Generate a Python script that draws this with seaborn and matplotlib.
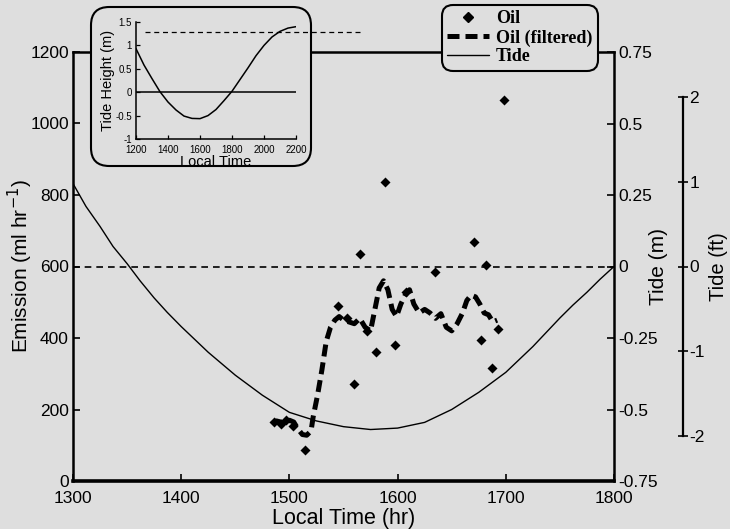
import matplotlib
matplotlib.use("Agg")
import matplotlib.pyplot as plt
import seaborn as sns
import numpy as np
import pandas as pd
from matplotlib.patches import FancyBboxPatch
from matplotlib.lines import Line2D
from matplotlib.font_manager import FontProperties

# ---------------- data ----------------
oil_time = [1486, 1492, 1497, 1503, 1514, 1545, 1553, 1560, 1565, 1572, 1580,
            1588, 1598, 1608, 1635, 1671, 1677, 1682, 1687, 1693, 1698]
oil_emission = [165, 160, 170, 155, 87, 490, 455, 270, 635, 420, 360,
                835, 380, 530, 585, 668, 394, 604, 316, 425, 1065]

filt_time = [1484, 1488, 1492, 1496, 1500, 1504, 1508, 1512, 1516, 1520, 1522,
             1526, 1530, 1534, 1538, 1542, 1546, 1550, 1555, 1560, 1565, 1570,
             1575, 1579, 1583, 1587, 1591, 1595, 1599, 1603, 1607, 1611, 1615,
             1620, 1625, 1630, 1635, 1640, 1645, 1650, 1655, 1660, 1664, 1668,
             1672, 1676, 1680, 1684, 1688, 1692]
filt_emission = [160, 168, 165, 160, 170, 165, 145, 130, 128, 140, 180,
                 240, 310, 390, 430, 450, 460, 450, 445, 440, 455, 430,
                 420, 480, 540, 560, 535, 480, 460, 495, 520, 535, 495,
                 470, 480, 470, 455, 468, 430, 420, 440, 470, 505, 520,
                 515, 495, 470, 465, 445, 450]

tide_time = [1300, 1312, 1325, 1337, 1350, 1362, 1375, 1387, 1400, 1425, 1450,
             1475, 1500, 1525, 1550, 1575, 1600, 1625, 1650, 1675, 1700, 1725,
             1750, 1762, 1775, 1787, 1800]
tide_m = [0.29, 0.21, 0.14, 0.07, 0.01, -0.05, -0.11, -0.16, -0.21, -0.30,
          -0.38, -0.45, -0.51, -0.54, -0.56, -0.57, -0.565, -0.545, -0.50,
          -0.44, -0.37, -0.28, -0.18, -0.135, -0.09, -0.045, 0.0]

inset_time = [1200, 1250, 1300, 1350, 1400, 1450, 1500, 1550, 1600, 1650, 1700,
              1750, 1800, 1850, 1900, 1950, 2000, 2050, 2100, 2150, 2200]
inset_tide = [0.93, 0.58, 0.29, 0.01, -0.21, -0.38, -0.51, -0.56, -0.565,
              -0.50, -0.37, -0.18, 0.02, 0.27, 0.52, 0.78, 1.00, 1.18, 1.30,
              1.37, 1.40]

left_ticks = [0, 200, 400, 600, 800, 1000, 1200]
x_ticks = [1300, 1400, 1500, 1600, 1700, 1800]
m_ticks = [0.75, 0.5, 0.25, 0, -0.25, -0.5, -0.75]
m_labels = ["0.75", "0.5", "0.25", "0", "-0.25", "-0.5", "-0.75"]
ft_ticks = [2, 1, 0, -1, -2]
inset_xticks = [1200, 1400, 1600, 1800, 2000, 2200]
inset_yticks = [-1, -0.5, 0, 0.5, 1, 1.5]
inset_ylabels = ["-1", "-0.5", "0", "0.5", "1", "1.5"]

# ---------------- style ----------------
sns.set_theme(style="ticks")
plt.rcParams["font.family"] = ["Liberation Sans", "DejaVu Sans"]
plt.rcParams["axes.unicode_minus"] = False
plt.rcParams["text.color"] = "black"
plt.rcParams["axes.labelcolor"] = "black"
plt.rcParams["xtick.color"] = "black"
plt.rcParams["ytick.color"] = "black"
BG = "#dedede"
W, H = 730, 529

fig = plt.figure(figsize=(7.3, 5.29), dpi=100, facecolor=BG)
ax = fig.add_axes([73 / W, 1 - 481 / H, (614 - 73) / W, (481 - 52) / H])
ax.set_facecolor("none")
ax.set_xlim(1300, 1800)
ax.set_ylim(0, 1200)

ax.axhline(600, color="black", lw=1.2, ls=(0, (4, 3)), zorder=1)
sns.lineplot(x=filt_time, y=filt_emission, ax=ax, color="black", lw=3.6,
             linestyle=(0, (2.4, 1.2)), sort=False, zorder=3)
sns.scatterplot(x=oil_time, y=oil_emission, ax=ax, marker="D", s=26,
                color="black", edgecolor="black", linewidth=0, zorder=4)

ax.set_xticks(x_ticks)
ax.set_yticks(left_ticks)
ax.tick_params(axis="both", direction="in", length=5, width=1.2,
               labelsize=12.5, colors="black")
ax.tick_params(axis="x", pad=7)
ax.tick_params(axis="y", pad=3)
ax.set_xlabel("Local Time (hr)", fontsize=15.5)
ax.xaxis.set_label_coords(0.5, -0.062)
ax.set_ylabel("Emission (ml hr$^{-1}$)", fontsize=15)
ax.yaxis.set_label_coords(-0.070, 0.5)
for side, lw in [("left", 1.8), ("bottom", 2.6), ("top", 1.8), ("right", 1.8)]:
    ax.spines[side].set_linewidth(lw)
    ax.spines[side].set_color("black")

# tide in metres on right axis
ax2 = ax.twinx()
sns.lineplot(x=tide_time, y=tide_m, ax=ax2, color="black", lw=1.0)
ax2.set_ylim(-0.75, 0.75)
ax2.set_xlim(1300, 1800)
ax2.set_yticks(m_ticks)
ax2.set_yticklabels(m_labels)
ax2.tick_params(axis="y", direction="in", length=5, width=1.2,
                labelsize=12.5, colors="black", pad=3)
ax2.set_ylabel("Tide (m)", fontsize=15)
ax2.yaxis.set_label_coords(1.083, 0.5)
ax2.yaxis.label.set_va("center")
for s in ax2.spines.values():
    s.set_visible(False)

# tide in feet on an offset axis
ax3 = ax.twinx()
ax3.set_ylim(-2.53, 2.53)
for s in ["top", "left", "bottom"]:
    ax3.spines[s].set_visible(False)
ax3.spines["right"].set_position(("axes", (683 - 73) / (614 - 73)))
ax3.spines["right"].set_bounds(-2, 2)
ax3.spines["right"].set_linewidth(1.6)
ax3.spines["right"].set_color("black")
ax3.set_yticks(ft_ticks)
ax3.set_yticklabels([str(t) for t in ft_ticks])
ax3.tick_params(axis="y", direction="inout", length=7, width=1.2,
                labelsize=12.5, colors="black", pad=1)
ax3.set_ylabel("Tide (ft)", fontsize=14.5)
ax3.yaxis.set_label_coords(1.193, 0.5)
ax3.yaxis.label.set_va("center")

# legend
handles = [Line2D([], [], marker="D", ls="none", color="black", ms=5),
           Line2D([], [], color="black", lw=3.6, ls=(0, (2.4, 1.2))),
           Line2D([], [], color="black", lw=1.0)]
leg = fig.legend(handles, ["Oil", "Oil (filtered)", "Tide"],
                 loc="upper left", bbox_to_anchor=(442 / W, 1 - 5 / H),
                 bbox_transform=fig.transFigure,
                 prop=FontProperties(family="Liberation Serif", weight="bold", size=13),
                 frameon=True, fancybox=True, facecolor=BG, edgecolor="black",
                 framealpha=1, borderpad=0.3, labelspacing=0.1,
                 handlelength=2.3, handletextpad=0.4, borderaxespad=0)
leg.get_frame().set_linewidth(1.5)
leg.get_frame().set_boxstyle("round,pad=0,rounding_size=0.6")
for t in leg.get_texts():
    t.set_color("black")

# inset box
box = FancyBboxPatch((91 / W, 1 - 166 / H), (311 - 91) / W, (166 - 7) / H,
                     boxstyle="round,pad=0,rounding_size=0.025",
                     mutation_aspect=W / H,
                     transform=fig.transFigure, facecolor=BG,
                     edgecolor="black", lw=1.5, zorder=3)
fig.add_artist(box)

axi = fig.add_axes([136 / W, 1 - 139 / H, 160 / W, 117 / H], zorder=4)
axi.set_facecolor("none")
sns.lineplot(x=inset_time, y=inset_tide, ax=axi, color="black", lw=1.1)
axi.axhline(0, color="black", lw=1.1, xmin=0, xmax=1)
axi.plot([1256, 2612], [1.28, 1.28], color="black", lw=0.9,
         ls=(0, (4, 3)), clip_on=False)
axi.set_xlim(1200, 2200)
axi.set_ylim(-1, 1.5)
axi.set_xticks(inset_xticks)
axi.set_yticks(inset_yticks)
axi.set_yticklabels(inset_ylabels)
axi.tick_params(axis="both", direction="in", length=3, width=0.9,
                labelsize=7, colors="black")
axi.tick_params(axis="x", pad=4)
axi.tick_params(axis="y", pad=3)
axi.set_xlabel("Local Time", fontsize=10.5, labelpad=0)
axi.set_ylabel("Tide Height (m)", fontsize=10.5, labelpad=0)
for s in ["top", "right"]:
    axi.spines[s].set_visible(False)
for s in ["left", "bottom"]:
    axi.spines[s].set_linewidth(1.1)
    axi.spines[s].set_color("black")

fig.savefig("out.png", dpi=100, facecolor=BG)
